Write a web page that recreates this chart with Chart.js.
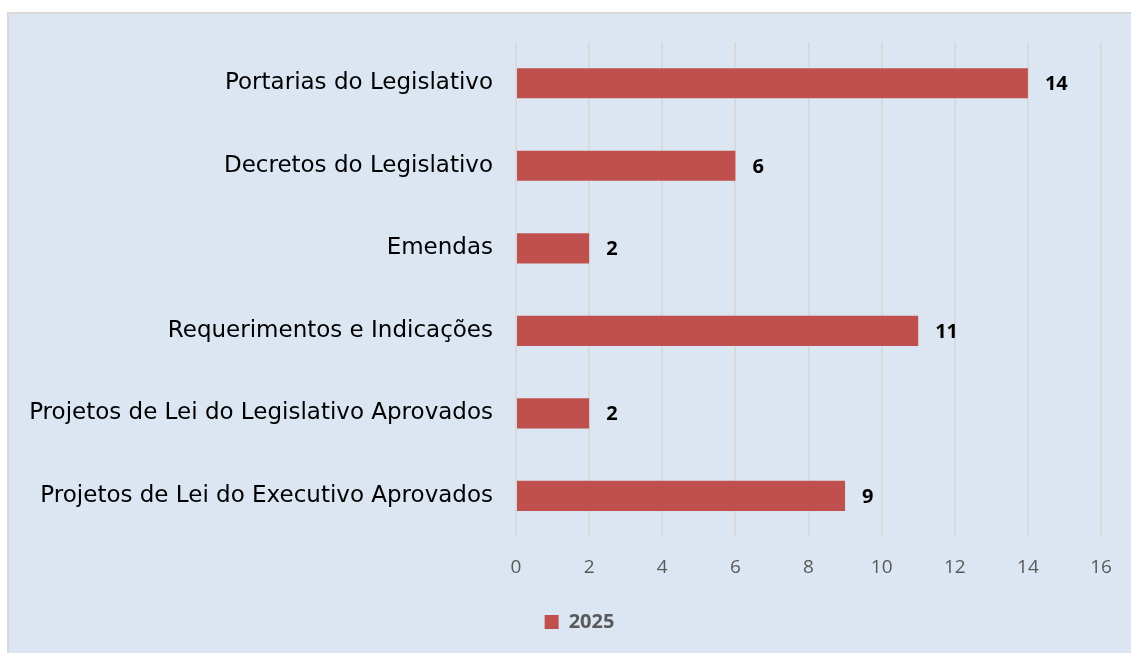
<!DOCTYPE html>
<html>
<head>
<meta charset="utf-8">
<script src="https://cdn.jsdelivr.net/npm/chart.js@4"></script>
<style>
  html, body { margin: 0; padding: 0; background: #ffffff; }
  #panel {
    position: absolute; left: 7px; top: 12px; width: 1124px; height: 641px;
    background: #dce6f2; border-left: 2px solid #d9d9d9; border-top: 2px solid #d9d9d9;
    box-sizing: border-box;
  }
  #chart { position: absolute; left: 0; top: 0; }
</style>
</head>
<body>
<div id="panel"></div>
<canvas id="chart" width="1131" height="653"></canvas>
<script>
// categorias e valores (2025)
let categorias = [
  "Portarias do Legislativo",
  "Decretos do Legislativo",
  "Emendas",
  "Requerimentos e Indicações",
  "Projetos de Lei do Legislativo Aprovados",
  "Projetos de Lei do Executivo Aprovados",
];
let valores2025 = [14, 6, 2, 11, 2, 9];
let ticksX = [0, 2, 4, 6, 8, 10, 12, 14, 16];

// rótulos de valor ao lado das barras
let rotulosPlugin = {
  id: "rotulos",
  afterDatasetsDraw(chart) {
    let ctx = chart.ctx;
    ctx.save();
    ctx.font = "bold 20px 'Open Sans'";
    ctx.fillStyle = "#000000";
    ctx.textBaseline = "middle";
    ctx.textAlign = "left";
    chart.getDatasetMeta(0).data.forEach((bar, i) => {
      ctx.fillText(String(valores2025[i]), bar.x + 17, bar.y + 1);
    });
    ctx.restore();
  },
};

// desloca a legenda um pouco para a direita, como no original
let legendaPlugin = {
  id: "legendaShift",
  afterLayout(chart) {
    chart.legend.left += 29;
    chart.legend.right += 29;
  },
};

let chart = new Chart(document.getElementById("chart"), {
  type: "bar",
  data: {
    labels: categorias,
    datasets: [
      {
        label: "2025",
        data: valores2025,
        backgroundColor: "#c0504d",
        borderWidth: 0,
        categoryPercentage: 1,
        barPercentage: 0.365,
      },
    ],
  },
  options: {
    indexAxis: "y",
    responsive: false,
    animation: false,
    layout: { padding: { top: 42, right: 30, bottom: 11, left: 0 } },
    scales: {
      x: {
        min: 0,
        max: 16,
        afterBuildTicks: (scale) => {
          scale.ticks = ticksX.map((v) => ({ value: v }));
        },
        grid: { color: "#d9d9d9", lineWidth: 2, drawTicks: false },
        border: { display: false },
        ticks: {
          padding: 19,
          color: "#595959",
          font: { family: "'Open Sans'", size: 19 },
        },
      },
      y: {
        grid: { display: false, drawTicks: false },
        border: { display: false },
        afterFit: (scale) => {
          scale.width = 516;
        },
        ticks: {
          padding: 23,
          color: "#000000",
          font: { family: "'DejaVu Sans'", size: 23 },
        },
      },
    },
    plugins: {
      legend: {
        display: true,
        position: "bottom",
        labels: {
          boxWidth: 14,
          boxHeight: 14,
          padding: 14,
          color: "#595959",
          font: { family: "'Open Sans'", size: 20, weight: "bold" },
        },
      },
      tooltip: { enabled: false },
    },
  },
  plugins: [rotulosPlugin, legendaPlugin],
});
</script>
</body>
</html>
